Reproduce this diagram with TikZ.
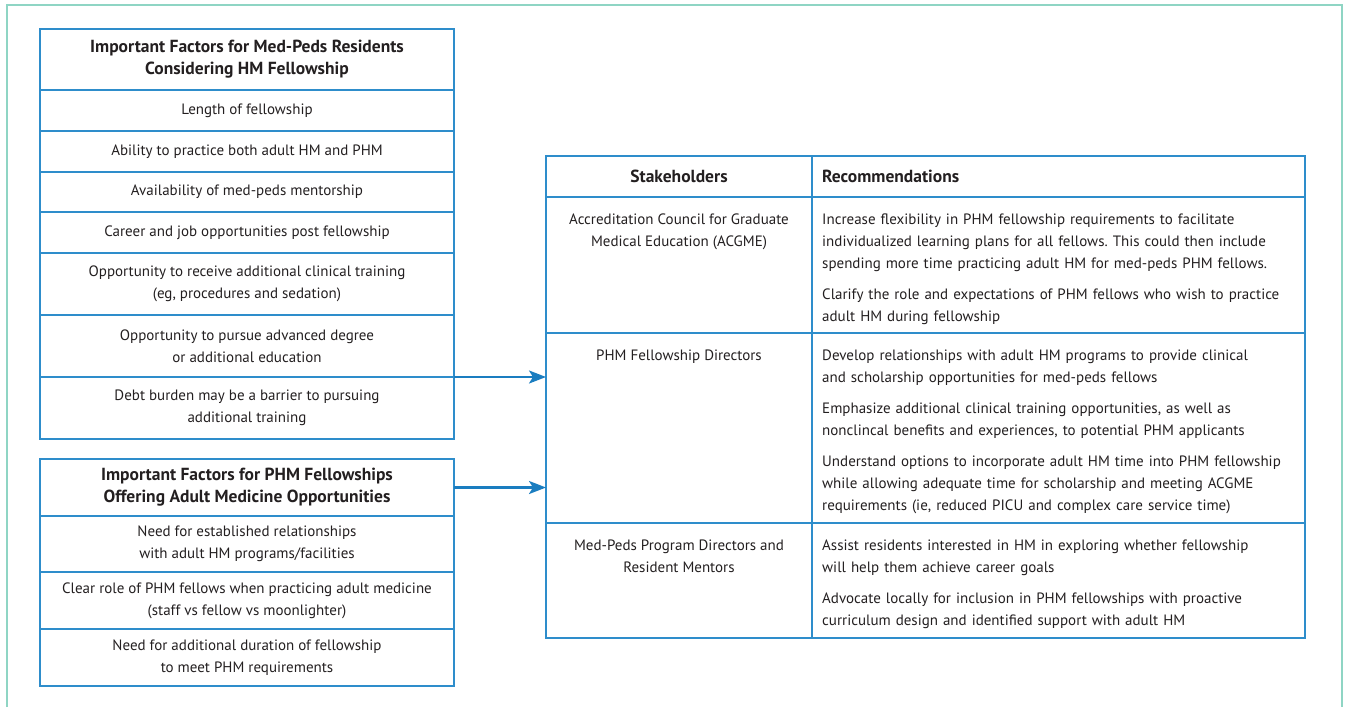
\documentclass[tikz,border=0pt]{standalone}
\usepackage{fontspec}
\setmainfont{PT Sans}
\usetikzlibrary{arrows.meta}
\definecolor{frameTeal}{HTML}{8FD5C4}
\definecolor{boxBlue}{HTML}{2E8DCB}
\definecolor{arrowBlue}{HTML}{1A7DC0}
\definecolor{txtGray}{HTML}{231F20}
\frenchspacing

\tikzset{
  cell/.style={draw=boxBlue, line width=1.5pt, anchor=north west, outer sep=0pt,
    inner sep=0pt, align=center, text=txtGray},
  headcell/.style={cell, font=\bfseries\fontsize{17.5}{22}\selectfont},
  toptext/.style={anchor=north, inner sep=0pt, align=center, text=txtGray},
  rectext/.style={anchor=north west, inner sep=0pt, align=left, text=txtGray, text width=480pt},
  feed/.style={arrowBlue, line width=2.4pt, -{Stealth[length=17pt, width=13pt, inset=4pt]}},
}

\begin{document}
\begin{tikzpicture}[x=1pt, y=-1pt, font=\fontsize{15}{22}\selectfont]
  \useasboundingbox (0,0) rectangle (1346,707);
  \draw[frameTeal, line width=1.5pt] (7,707) |- (1342,5) -- (1342,707);
  %%%%%%%%%%%%% med-peds residents
  \node[headcell, minimum width=414, minimum height=61] (lh) at (40,29)
    {Important Factors for Med-Peds Residents\\Considering HM Fellowship};
  \node[cell, minimum width=414, minimum height=41] (l1) at (40,90) {Length of fellowship};
  \node[cell, minimum width=414, minimum height=41] (l2) at (40,131) {Ability to practice both adult HM and PHM};
  \node[cell, minimum width=414, minimum height=40] (l3) at (40,172) {Availability of med-peds mentorship};
  \node[cell, minimum width=414, minimum height=41] (l4) at (40,212) {Career and job opportunities post fellowship};
  \node[cell, minimum width=414, minimum height=62] (l5) at (40,253)
    {Opportunity to receive additional clinical training\\(eg, procedures and sedation)};
  \node[cell, minimum width=414, minimum height=62] (l6) at (40,315)
    {Opportunity to pursue advanced degree\\or additional education};
  \node[cell, minimum width=414, minimum height=62] (l7) at (40,377)
    {Debt burden may be a barrier to pursuing\\additional training};
  %%%%%%%%%%%%% PHM fellowships
  \node[headcell, minimum width=414, minimum height=57] (ph) at (40,459)
    {Important Factors for PHM Fellowships\\Offering Adult Medicine Opportunities};
  \node[cell, minimum width=414, minimum height=56] (p1) at (40,516)
    {Need for established relationships\\with adult HM programs/facilities};
  \node[cell, minimum width=414, minimum height=57] (p2) at (40,572)
    {Clear role of PHM fellows when practicing adult medicine\\(staff vs fellow vs moonlighter)};
  \node[cell, minimum width=414, minimum height=57] (p3) at (40,629)
    {Need for additional duration of fellowship\\to meet PHM requirements};
  %%%%%%%%%%%%% stakeholders table
  \node[headcell, minimum width=266, minimum height=41] (sh) at (546,156) {Stakeholders};
  \node[cell, minimum width=493, minimum height=41] (ch) at (812,156) {};
  \node[font=\bfseries\fontsize{17.5}{22}\selectfont, anchor=west, inner sep=0pt, text=txtGray]
    (cht) at ([xshift=10pt]ch.west) {Recommendations};
  \node[cell, minimum width=266, minimum height=136] (s1) at (546,197) {};
  \node[cell, minimum width=493, minimum height=136] (c1) at (812,197) {};
  \node[cell, minimum width=266, minimum height=190] (s2) at (546,333) {};
  \node[cell, minimum width=493, minimum height=190] (c2) at (812,333) {};
  \node[cell, minimum width=266, minimum height=115] (s3) at (546,523) {};
  \node[cell, minimum width=493, minimum height=115] (c3) at (812,523) {};
  %%%%%%%%%%%%%
  \node[toptext] (s1t) at ([yshift=-16.5pt]s1.north)
    {Accreditation Council for Graduate\\Medical Education (ACGME)};
  \node[toptext] (s2t) at ([yshift=-16.5pt]s2.north) {PHM Fellowship Directors};
  \node[toptext] (s3t) at ([yshift=-16.5pt]s3.north)
    {Med-Peds Program Directors and\\Resident Mentors};
  \node[rectext] (c1t) at ([xshift=10pt, yshift=-16.5pt]c1.north west)
    {Increase flexibility in PHM fellowship requirements to facilitate\\
     individualized learning plans for all fellows. This could then include\\
     spending more time practicing adult HM for med-peds PHM fellows.\\[9pt]
     Clarify the role and expectations of PHM fellows who wish to practice\\
     adult HM during fellowship};
  \node[rectext] (c2t) at ([xshift=10pt, yshift=-16.5pt]c2.north west)
    {Develop relationships with adult HM programs to provide clinical\\
     and scholarship opportunities for med-peds fellows\\[9pt]
     Emphasize additional clinical training opportunities, as well as\\
     nonclincal benefits and experiences, to potential PHM applicants\\[9pt]
     Understand options to incorporate adult HM time into PHM fellowship\\
     while allowing adequate time for scholarship and meeting ACGME\\
     requirements (ie, reduced PICU and complex care service time)};
  \node[rectext] (c3t) at ([xshift=10pt, yshift=-16.5pt]c3.north west)
    {Assist residents interested in HM in exploring whether fellowship\\
     will help them achieve career goals\\[9pt]
     Advocate locally for inclusion in PHM fellowships with proactive\\
     curriculum design and identified support with adult HM};
  %%%%%%%%%%%%% arrows
  \draw[feed] (l6.south east) -- (l6.south east -| s2.west);
  \draw[feed] (ph.east) -- (ph.east -| s2.west);
\end{tikzpicture}
\end{document}
